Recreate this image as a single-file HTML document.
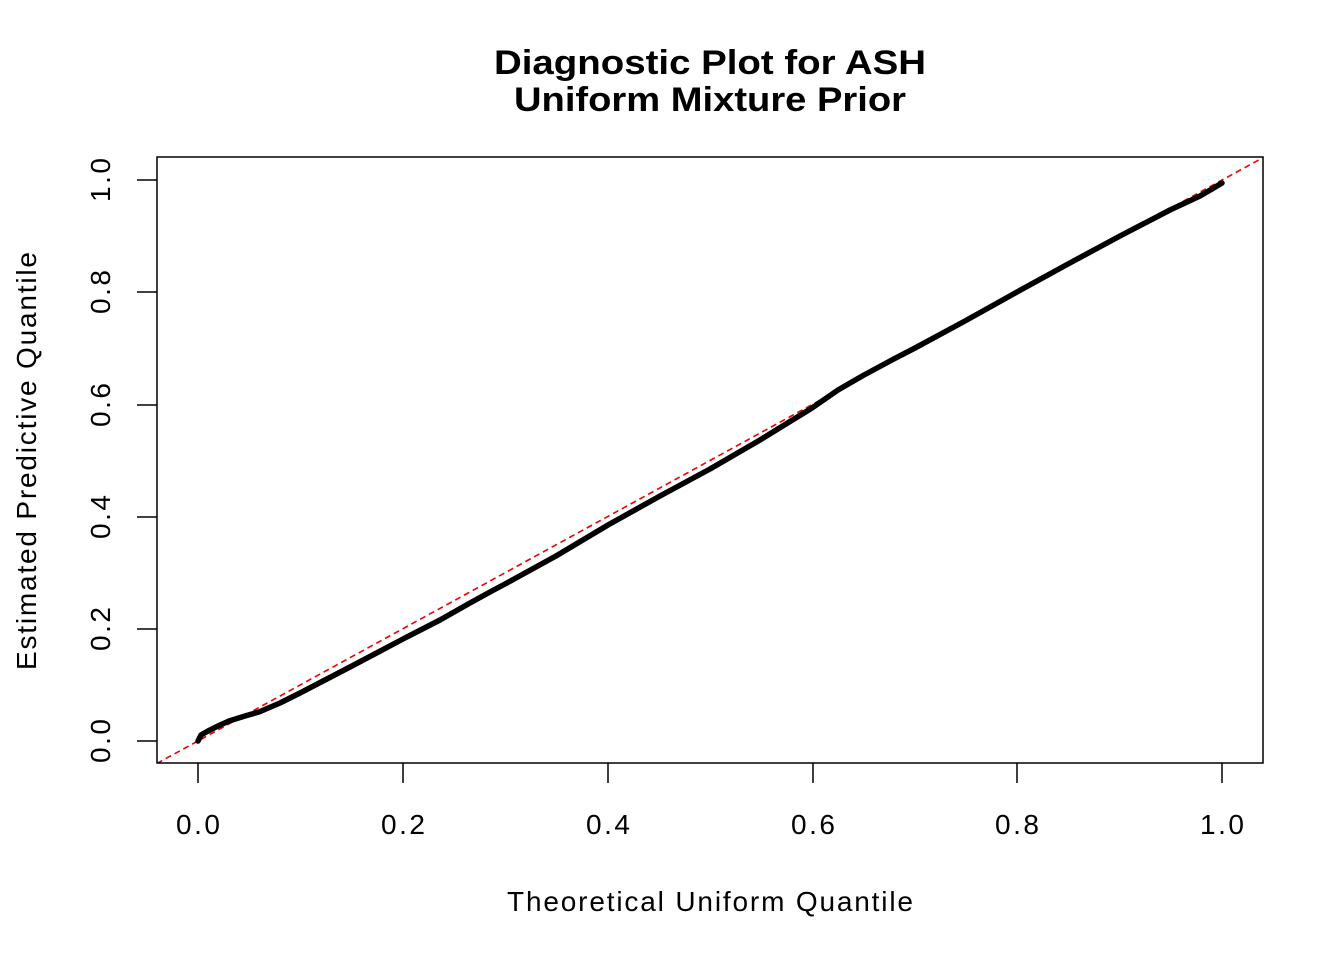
<!DOCTYPE html>
<html><head><meta charset="utf-8"><style>
html,body{margin:0;padding:0;background:#fff;}
svg{display:block;font-family:"Liberation Sans",Arial,sans-serif;}
</style></head><body>
<svg width="1344" height="960" viewBox="0 0 1344 960" xmlns="http://www.w3.org/2000/svg">
<rect width="1344" height="960" fill="#fff"/>
<text x="710" y="74" font-size="34" font-weight="bold" text-anchor="middle" textLength="432" lengthAdjust="spacingAndGlyphs">Diagnostic Plot for ASH</text>
<text x="710" y="111" font-size="34" font-weight="bold" text-anchor="middle" textLength="392" lengthAdjust="spacingAndGlyphs">Uniform Mixture Prior</text>
<defs><clipPath id="c"><rect x="157" y="157" width="1106" height="606"/></clipPath></defs>
<line x1="157" y1="763.4" x2="1263" y2="157.6" stroke="#e00" stroke-width="1.6" stroke-dasharray="6,4" clip-path="url(#c)"/>
<polyline fill="none" stroke="#000" stroke-width="5.5" stroke-linejoin="round" stroke-linecap="round"
points="198,741 201,735 208,731 218,726 229,721 245,716 259,712 280,703 300,693 350,667 403,639 440,620 470,603 490,592 505,584 556,556 608,525 660,496 710,469 760,440 812,408 838,390 864,375 890,361 915,348 965,321 1017,292 1068,264 1120,236 1170,210 1200,196 1212,189 1222,183"/>
<rect x="157" y="157" width="1106" height="606" fill="none" stroke="#000" stroke-width="1.5"/>
<g stroke="#000" stroke-width="1.5">
<line x1="198" y1="763" x2="198" y2="783"/><line x1="403" y1="763" x2="403" y2="783"/><line x1="608" y1="763" x2="608" y2="783"/><line x1="813" y1="763" x2="813" y2="783"/><line x1="1017" y1="763" x2="1017" y2="783"/><line x1="1222" y1="763" x2="1222" y2="783"/>
<line x1="157" y1="741" x2="137" y2="741"/><line x1="157" y1="629" x2="137" y2="629"/><line x1="157" y1="517" x2="137" y2="517"/><line x1="157" y1="405" x2="137" y2="405"/><line x1="157" y1="292" x2="137" y2="292"/><line x1="157" y1="180" x2="137" y2="180"/>
</g>
<g font-size="28" text-anchor="middle" lengthAdjust="spacingAndGlyphs">
<text x="198" y="834" textLength="44">0.0</text><text x="403" y="834" textLength="44">0.2</text><text x="608" y="834" textLength="44">0.4</text><text x="813" y="834" textLength="44">0.6</text><text x="1017" y="834" textLength="44">0.8</text><text x="1222" y="834" textLength="44">1.0</text>
<text transform="translate(110,741) rotate(-90)" textLength="44">0.0</text>
<text transform="translate(110,629) rotate(-90)" textLength="44">0.2</text>
<text transform="translate(110,517) rotate(-90)" textLength="44">0.4</text>
<text transform="translate(110,405) rotate(-90)" textLength="44">0.6</text>
<text transform="translate(110,292) rotate(-90)" textLength="44">0.8</text>
<text transform="translate(110,180) rotate(-90)" textLength="44">1.0</text>
<text x="710" y="911" textLength="406">Theoretical Uniform Quantile</text>
<text transform="translate(36,461) rotate(-90)" textLength="418">Estimated Predictive Quantile</text>
</g>
</svg>
</body></html>
